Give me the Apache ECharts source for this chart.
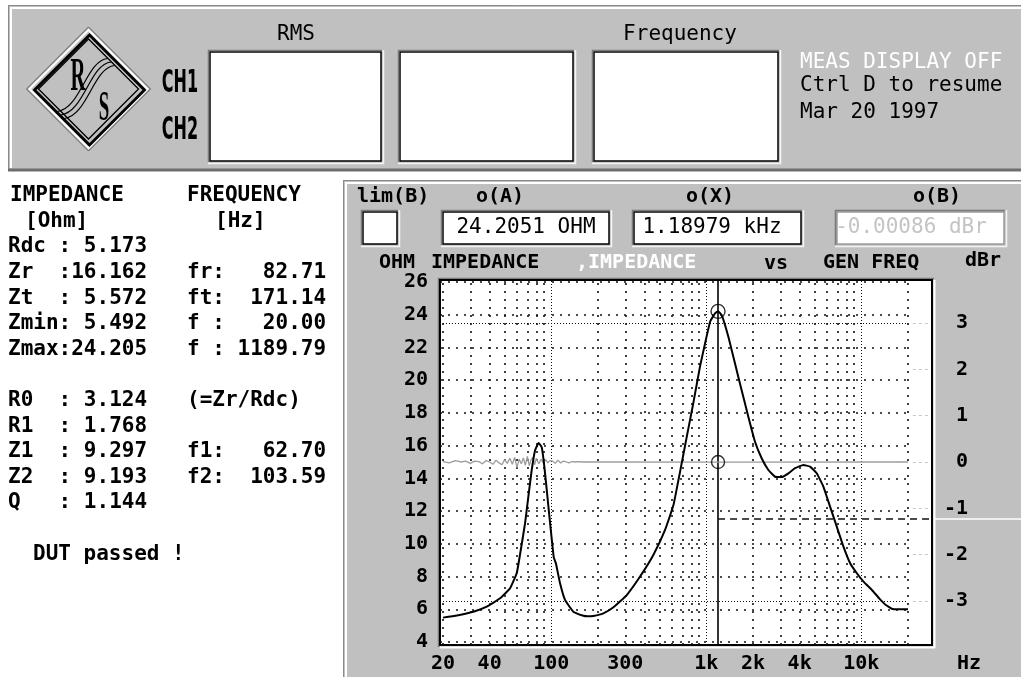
<!DOCTYPE html>
<html>
<head>
<meta charset="utf-8">
<script src="https://cdn.jsdelivr.net/npm/echarts@6/dist/echarts.min.js"></script>
<style>
  html, body { margin: 0; padding: 0; background: #fff; }
  #chart { width: 1021px; height: 677px; }
</style>
</head>
<body>
<div id="chart"></div>
<script>
// impedance sweep (Ohm) vs generator frequency (Hz)
const impFreq = [20, 24.6, 31.4, 38.3, 46.7, 54.1, 59.8, 62.7, 67.7, 71.1, 74.7, 78.5, 82.71, 86.7, 89.7, 93.4, 97.2,
  103.59, 107, 113.8, 122.6, 138.8, 161, 171.14, 186.6, 216.6, 251.5, 306.6, 373.6, 455, 541.7, 613.6, 676.6, 748,
  824, 910, 982, 1060, 1142, 1189.79, 1255, 1387, 1530, 1688, 1866, 2061, 2275, 2513, 2776, 3066, 3386, 3740, 4224,
  4666, 5153, 5691, 6286, 6943, 7669, 8471, 9355, 10333, 11700, 13030, 14400, 15900, 20000];
const impOhm = [5.49, 5.62, 5.85, 6.16, 6.67, 7.28, 8.2, 9.3, 11.26, 12.9, 14.5, 15.7, 16.16, 15.9, 14.9, 13.3, 11.66,
  9.19, 8.81, 7.59, 6.57, 5.85, 5.6, 5.57, 5.59, 5.75, 6.12, 6.87, 8.0, 9.32, 10.85, 12.37, 14.4, 16.55,
  18.6, 20.83, 22.26, 23.6, 24.1, 24.205, 23.99, 22.66, 21.03, 19.4, 17.77, 16.24, 15.23, 14.51, 14.1, 14.08, 14.31, 14.62, 14.82,
  14.72, 14.31, 13.5, 12.27, 11.05, 9.83, 8.81, 8.2, 7.69, 7.18, 6.67, 6.26, 6.02, 6.0];

// second trace (dBr, right scale)
const levelFreq = [20, 22, 24, 26, 28, 30, 32, 34, 36, 38, 40, 42, 44, 46, 48, 50, 52, 54, 56, 58, 60, 62, 64, 66, 68, 70,
  72, 74, 76, 78, 80, 83, 86, 89, 92, 95, 98, 102, 106, 110, 115, 120, 125, 130, 136, 142, 150, 160, 175, 1189.79, 20000];
const levelDbr = [0.01, -0.02, 0.03, 0.0, 0.02, -0.03, 0.02, 0.01, -0.04, 0.03, 0.0, -0.05, 0.04, -0.02, -0.06, 0.05,
  -0.03, 0.08, -0.05, 0.1, -0.12, 0.06, -0.04, 0.09, -0.07, 0.12, -0.08, 0.05, 0.1, -0.06, 0.08, -0.04, 0.06, -0.03,
  0.05, -0.02, 0.03, 0.02, -0.03, 0.04, -0.02, 0.02, 0.0, -0.02, 0.01, 0.0, 0.01, 0.0, 0.0, -0.00086, 0.0];

const cursorFreq = 1189.79;
const cursorOhm = 24.205;
const cursorDbr = -0.00086;
const limitDbr = -1.23;

const xTickValues = [20, 40, 100, 300, 1000, 2000, 4000, 10000];
const xTickLabels = ['20', '40', '100', '300', '1k', '2k', '4k', '10k'];
const ohmTicks = [4, 6, 8, 10, 12, 14, 16, 18, 20, 22, 24, 26];
const dbrTicks = [-3, -2, -1, 0, 1, 2, 3];
const xMinorGrid = [20, 30, 40, 50, 60, 70, 80, 90, 200, 300, 400, 500, 600, 700, 800, 900,
  2000, 3000, 4000, 5000, 6000, 7000, 8000, 9000, 20000];
const xMajorGrid = [100, 1000, 10000];
const dbrMajorGrid = [-3, 3];

const leftCol = ['Rdc : 5.173', 'Zr  :16.162', 'Zt  : 5.572', 'Zmin: 5.492', 'Zmax:24.205', '',
  'R0  : 3.124', 'R1  : 1.768', 'Z1  : 9.297', 'Z2  : 9.193', 'Q   : 1.144'];
const rightCol = ['', 'fr:   82.71', 'ft:  171.14', 'f :   20.00', 'f : 1189.79', '',
  '(=Zr/Rdc)', '', 'f1:   62.70', 'f2:  103.59', ''];

// axis extents so the scales fill the plot frame
const xMin = 19.13, xMax = 28572;
const ohmMin = 3.817, ohmMax = 26.122;
const dbrMin = -3.95, dbrMax = 3.928;

const MONO = '"DejaVu Sans Mono", "Liberation Mono", monospace';
const FB = 'bold 21px ' + MONO;
const FB20 = 'bold 20px ' + MONO;
const FR = '21px ' + MONO;
const GREY = '#c0c0c0';

function txt(text, x, y, o) {
  o = o || {};
  return {
    type: 'text', x: x, y: y, scaleX: o.sx || 1, z: 20,
    style: { text: text, x: 0, y: 0, font: o.font || FB, fill: o.fill || '#000',
      textAlign: o.align || 'left', textVerticalAlign: 'middle' }
  };
}
function ln(x1, y1, x2, y2, color, w, z) {
  return { type: 'line', z: z == null ? -2 : z, shape: { x1: x1, y1: y1, x2: x2, y2: y2 },
    style: { stroke: color, lineWidth: w } };
}
function sunken(x1, y1, x2, y2, border) {
  return [
    { type: 'rect', z: -2, shape: { x: x1, y: y1, width: x2 - x1, height: y2 - y1 },
      style: { fill: '#fff', stroke: border || '#000', lineWidth: 1.5 } },
    { type: 'polyline', z: -2, shape: { points: [[x1 - 1.5, y2 + 1], [x1 - 1.5, y1 - 1.5], [x2 + 1, y1 - 1.5]] },
      style: { stroke: '#7a7a7a', lineWidth: 1.5, fill: null } },
    { type: 'polyline', z: -2, shape: { points: [[x1 - 2, y2 + 2.5], [x2 + 2.5, y2 + 2.5], [x2 + 2.5, y1 - 2]] },
      style: { stroke: '#f4f4f4', lineWidth: 1.5, fill: null } }
  ];
}
function diamond(cx, cy, r) {
  return [[cx - r, cy], [cx, cy - r], [cx + r, cy], [cx, cy + r]];
}

const els = [];
// top panel
els.push({ type: 'rect', z: -3, shape: { x: 8, y: 5, width: 1013, height: 166 }, style: { fill: GREY } });
els.push(ln(8, 5.5, 1021, 5.5, '#8a8a8a', 1), ln(8.5, 5, 8.5, 171, '#8a8a8a', 1));
els.push(ln(10, 8, 1021, 8, '#fff', 2), ln(11, 8, 11, 168, '#fff', 2));
els.push(ln(8, 170, 1021, 170, '#6e6e6e', 3));
// logo
els.push({ type: 'polygon', z: -2, shape: { points: diamond(88.5, 89, 62) }, style: { fill: GREY, stroke: '#555', lineWidth: 1 } });
els.push({ type: 'polygon', z: -2, shape: { points: diamond(88.5, 89, 59) }, style: { fill: null, stroke: '#fff', lineWidth: 2 } });
els.push({ type: 'polygon', z: -2, shape: { points: diamond(89.5, 90, 55) }, style: { fill: null, stroke: '#000', lineWidth: 2.8 } });
els.push({ type: 'polygon', z: -2, shape: { points: diamond(88.5, 89, 50) }, style: { fill: null, stroke: '#000', lineWidth: 1.3 } });
[-3.5, 0, 3.5].forEach(function (d) {
  els.push({ type: 'bezierCurve', z: -1, shape: { x1: 61 + d, y1: 115 + d, x2: 111 + d, y2: 62 + d,
    cpx1: 84 + d, cpy1: 112 + d, cpx2: 90 + d, cpy2: 64 + d }, style: { stroke: '#000', lineWidth: 1.2, fill: null } });
});
els.push(txt('R', 78, 78, { font: 'bold 46px "Liberation Serif", serif', sx: 0.45, align: 'center' }));
els.push(txt('S', 104, 109, { font: 'bold 42px "Liberation Serif", serif', sx: 0.45, align: 'center' }));
els.push(txt('CH1', 180, 84, { font: 'bold 32px "DejaVu Sans", sans-serif', sx: 0.5, align: 'center' }));
els.push(txt('CH2', 180, 131, { font: 'bold 32px "DejaVu Sans", sans-serif', sx: 0.5, align: 'center' }));
[[210, 381], [400, 573], [594, 778]].forEach(function (b) { sunken(b[0], 52, b[1], 161).forEach(function (e) { els.push(e); }); });
els.push(txt('RMS', 296, 35, { font: FR, align: 'center' }));
els.push(txt('Frequency', 680, 35, { font: FR, align: 'center' }));
els.push(txt('MEAS DISPLAY OFF', 800, 63, { font: FR, fill: '#fff' }));
els.push(txt('Ctrl D to resume', 800, 86, { font: FR }));
els.push(txt('Mar 20 1997', 800, 113, { font: FR }));

// left result table
els.push(txt('IMPEDANCE', 10, 196), txt('FREQUENCY', 187, 196));
els.push(txt('[Ohm]', 25, 222), txt('[Hz]', 215, 222));
leftCol.forEach(function (s, i) {
  const y = 247 + i * 25.6;
  if (s) els.push(txt(s, 8, y));
  if (rightCol[i]) els.push(txt(rightCol[i], 187, y));
});
els.push(txt('DUT passed !', 33, 555));

// right panel
els.push({ type: 'rect', z: -3, shape: { x: 343, y: 180, width: 678, height: 497 }, style: { fill: GREY } });
els.push(ln(343, 180.5, 1021, 180.5, '#8a8a8a', 1), ln(343.5, 180, 343.5, 677, '#8a8a8a', 1));
els.push(ln(345, 183, 1021, 183, '#fff', 2), ln(346, 183, 346, 677, '#fff', 2));
els.push(txt('lim(B)', 357, 197, { font: FB20 }));
els.push(txt('o(A)', 500, 197, { font: FB20, align: 'center' }));
els.push(txt('o(X)', 710, 197, { font: FB20, align: 'center' }));
els.push(txt('o(B)', 937, 197, { font: FB20, align: 'center' }));
sunken(363, 212, 397, 244).forEach(function (e) { els.push(e); });
sunken(443, 212, 609, 244).forEach(function (e) { els.push(e); });
sunken(634, 212, 801, 244).forEach(function (e) { els.push(e); });
sunken(837, 212, 1004, 244, '#9a9a9a').forEach(function (e) { els.push(e); });
els.push(txt('24.2051 OHM', 526, 228, { font: FR, align: 'center' }));
els.push(txt('1.18979 kHz', 712, 228, { font: FR, align: 'center' }));
els.push(txt('-0.00086 dBr', 911, 228, { font: FR, align: 'center', fill: '#c4c4c4' }));
els.push(txt('OHM', 379, 263, { font: FB20 }));
els.push(txt('IMPEDANCE', 431, 263, { font: FB20 }));
els.push(txt(',IMPEDANCE', 576, 263, { font: FB20, fill: '#fff' }));
els.push(txt('vs', 764, 264, { font: FB20 }));
els.push(txt('GEN FREQ', 823, 263, { font: FB20 }));
els.push(txt('dBr', 965, 261, { font: FB20 }));
els.push(txt('Hz', 957, 664, { font: FB20 }));
// plot frame bevel
els.push(ln(438, 278.5, 934, 278.5, '#7a7a7a', 1.5), ln(438.5, 278, 438.5, 647, '#7a7a7a', 1.5));
els.push(ln(934.5, 280, 934.5, 648, '#fff', 2), ln(440, 647.5, 935, 647.5, '#fff', 2));

const dotSparse = { color: '#111', width: 1.6, type: [2, 6] };
const dotDense = { color: '#111', width: 1, type: [1, 2] };
const faint = { color: '#c8c8c8', width: 1, type: [3, 3] };

const gridLines = []
  .concat(xMinorGrid.map(function (v) { return { xAxis: v, lineStyle: dotSparse }; }))
  .concat(xMajorGrid.map(function (v) { return { xAxis: v, lineStyle: dotDense }; }))
  .concat(ohmTicks.map(function (v) {
    return [{ coord: [xMin, v], lineStyle: dotSparse }, { coord: [20000, v], lineStyle: dotSparse }];
  }))
  .concat([{ xAxis: cursorFreq, lineStyle: { color: '#000', width: 1.6, type: 'solid' } }]);

const dbrLines = []
  .concat(dbrMajorGrid.map(function (v) {
    return [{ coord: [xMin, v], lineStyle: dotDense }, { coord: [20000, v], lineStyle: dotDense }];
  }))
  .concat(dbrTicks.map(function (v) {
    return [{ coord: [21500, v], lineStyle: faint }, { coord: [27000, v], lineStyle: faint }];
  }));

const labelFont = { color: '#000', fontFamily: MONO, fontWeight: 'bold', fontSize: 20 };

const chart = echarts.init(document.getElementById('chart'), null, { renderer: 'canvas' });
chart.setOption({
  animation: false,
  backgroundColor: '#fff',
  graphic: { elements: els },
  grid: { left: 440, top: 280, right: 89, bottom: 32, show: true, backgroundColor: '#fff',
    borderColor: '#000', borderWidth: 2, z: 0 },
  xAxis: {
    type: 'log', logBase: 10, min: xMin, max: xMax,
    axisLine: { show: false }, axisTick: { show: false }, splitLine: { show: false },
    axisLabel: Object.assign({
      customValues: xTickValues, margin: 9,
      formatter: function (v) {
        for (let i = 0; i < xTickValues.length; i++) {
          if (Math.abs(v / xTickValues[i] - 1) < 1e-3) return xTickLabels[i];
        }
        return '';
      }
    }, labelFont)
  },
  yAxis: [
    { type: 'value', min: ohmMin, max: ohmMax, position: 'left',
      axisLine: { show: false }, axisTick: { show: false }, splitLine: { show: false },
      axisLabel: Object.assign({ customValues: ohmTicks, margin: 12 }, labelFont) },
    { type: 'value', min: dbrMin, max: dbrMax, position: 'right',
      axisLine: { show: false }, axisTick: { show: false }, splitLine: { show: false },
      axisLabel: Object.assign({ customValues: dbrTicks, margin: 36, align: 'right' }, labelFont) }
  ],
  series: [
    {
      name: 'IMPEDANCE', type: 'line', yAxisIndex: 0, z: 3,
      data: impFreq.map(function (f, i) { return [f, impOhm[i]]; }),
      showSymbol: false, smooth: 0.12,
      lineStyle: { color: '#000', width: 2 },
      markLine: { silent: true, z: 1, symbol: ['none', 'none'], label: { show: false }, data: gridLines }
    },
    {
      name: 'IMPEDANCE dBr', type: 'line', yAxisIndex: 1, z: 2,
      data: levelFreq.map(function (f, i) { return [f, levelDbr[i]]; }),
      showSymbol: false,
      lineStyle: { color: '#9c9c9c', width: 1.3 },
      markLine: { silent: true, z: 1, symbol: ['none', 'none'], label: { show: false }, data: dbrLines }
    },
    {
      name: 'limit', type: 'line', yAxisIndex: 1, z: 3,
      data: [[cursorFreq, limitDbr], [xMax, limitDbr]],
      showSymbol: false,
      lineStyle: { color: '#111', width: 1.5, type: [7, 5] }
    },
    {
      name: 'cursor A', type: 'scatter', yAxisIndex: 0, z: 4,
      data: [[cursorFreq, cursorOhm]], symbol: 'circle', symbolSize: 14,
      itemStyle: { color: 'rgba(0,0,0,0)', borderColor: '#000', borderWidth: 1.4 }
    },
    {
      name: 'cursor B', type: 'scatter', yAxisIndex: 1, z: 4,
      data: [[cursorFreq, cursorDbr]], symbol: 'circle', symbolSize: 13,
      itemStyle: { color: 'rgba(0,0,0,0)', borderColor: '#000', borderWidth: 1.4 }
    }
  ]
});

// limit line continues past the frame in white
const tail = chart.convertToPixel({ xAxisIndex: 0, yAxisIndex: 1 }, [xMax, limitDbr]);
chart.setOption({
  graphic: { elements: [{ id: 'limitTail', type: 'line', z: 5,
    shape: { x1: tail[0] + 2, y1: tail[1], x2: 1021, y2: tail[1] },
    style: { stroke: '#fff', lineWidth: 1.5 } }] }
});
</script>
</body>
</html>
